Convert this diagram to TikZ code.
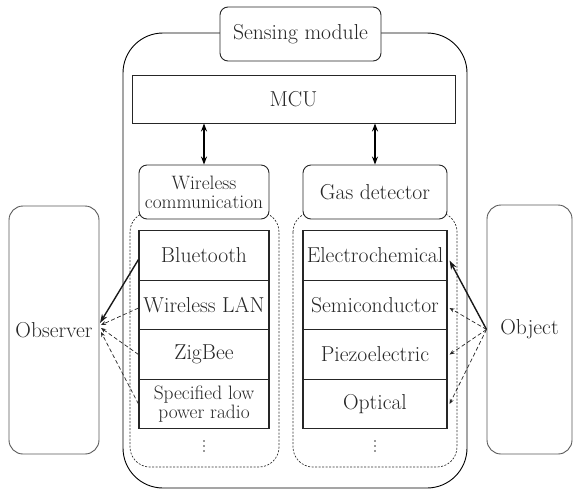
\documentclass[tikz,border=0pt]{standalone}
\usetikzlibrary{arrows.meta}
\begin{document}
\begin{tikzpicture}[x=1pt,y=-1pt,
  every node/.style={font=\fontsize{21.6}{19.5}\selectfont, inner sep=0pt, align=center, text=black!85},
  twoline/.style={font=\fontsize{19.4}{19}\selectfont},
  cell/.style={draw=black!85, line width=1.1pt, minimum height=49.5pt},
  rbox/.style={draw=black!85, line width=0.9pt, rounded corners=8pt, fill=white},
  side/.style={draw=black!65, line width=0.9pt, rounded corners=14pt},
  cont/.style={draw=black!80, line width=0.7pt, dash pattern=on 2pt off 1.5pt, rounded corners=20pt},
  solidarr/.style={draw=black!90, line width=1.4pt, -{Stealth[length=9pt,width=6pt]}},
  dasharr/.style={draw=black!85, line width=0.7pt, dash pattern=on 4pt off 2.5pt, -{Stealth[length=5pt,width=4pt]}},
  dblarr/.style={draw=black, line width=1.3pt, {Stealth[length=8pt,width=6pt]}-{Stealth[length=8pt,width=6pt]}},
  dotfill/.style={fill=black!80}
]
\useasboundingbox (0,0) rectangle (573,491);

% outer module
\node[draw=black, line width=0.9pt, rounded corners=40pt, minimum width=344pt, minimum height=455pt] (module) at (295,260.5) {};

% dashed containers
\draw[cont] (130,212) rectangle (279,467);
\draw[cont] (293,212) rectangle (457,467);

% sensing module label
\node[rbox, minimum width=161pt, minimum height=54pt] (sens) at (300.5,34) {Sensing module};

% MCU
\node[draw=black!85, line width=0.9pt, minimum width=323pt, minimum height=48pt] (mcu) at (293.5,99) {MCU};

% sub modules
\node[rbox, twoline, minimum width=130pt, minimum height=54pt] (wl) at (204,192) {Wireless\\communication};
\node[rbox, minimum width=144pt, minimum height=54pt] (gas) at (375,192) {Gas detector};

\draw[dblarr] (wl.north) -- (wl.north |- mcu.south);
\draw[dblarr] (gas.north) -- (gas.north |- mcu.south);

% left stack
\node[cell, minimum width=130pt] (bt) at (204,255.5) {Bluetooth};
\node[cell, minimum width=130pt] (wlan) at (204,305) {Wireless LAN};
\node[cell, minimum width=130pt] (zig) at (204,354.5) {ZigBee};
\node[cell, twoline, minimum width=130pt] (slp) at (204,404) {Specified low\\power radio};

% right stack
\node[cell, minimum width=144pt] (ec) at (375,255.5) {Electrochemical};
\node[cell, minimum width=144pt] (sc) at (375,305) {Semiconductor};
\node[cell, minimum width=144pt] (pe) at (375,354.5) {Piezoelectric};
\node[cell, minimum width=144pt] (op) at (375,404) {Optical};

% continuation dots
\foreach \yy in {441,446,451} {
  \fill[dotfill] (204,\yy) circle (0.9pt);
  \fill[dotfill] (375,\yy) circle (0.9pt);
}

% observer and object
\node[side, minimum width=90pt, minimum height=248pt] (obs) at (54,330) {Observer};
\node[side, minimum width=85pt, minimum height=249pt] (obj) at (529.5,329.5) {Object};

\coordinate (o1) at (100,323);
\coordinate (o2) at (101,325);
\coordinate (o3) at (101,328);
\coordinate (o4) at (101,332);

\draw[solidarr] ([yshift=-4pt]bt.west) -- (o1);
\draw[dasharr] ([yshift=-3pt]wlan.west) -- (o2);
\draw[dasharr] (zig.west) -- (o3);
\draw[dasharr] (slp.west) -- (o4);

\draw[solidarr] (obj.west) -- ([shift={(2pt,-5pt)}]ec.east);
\draw[dasharr] (obj.west) -- ([shift={(2pt,-3pt)}]sc.east);
\draw[dasharr] (obj.west) -- ([xshift=2pt]pe.east);
\draw[dasharr] (obj.west) -- ([xshift=2pt]op.east);
\end{tikzpicture}
\end{document}
